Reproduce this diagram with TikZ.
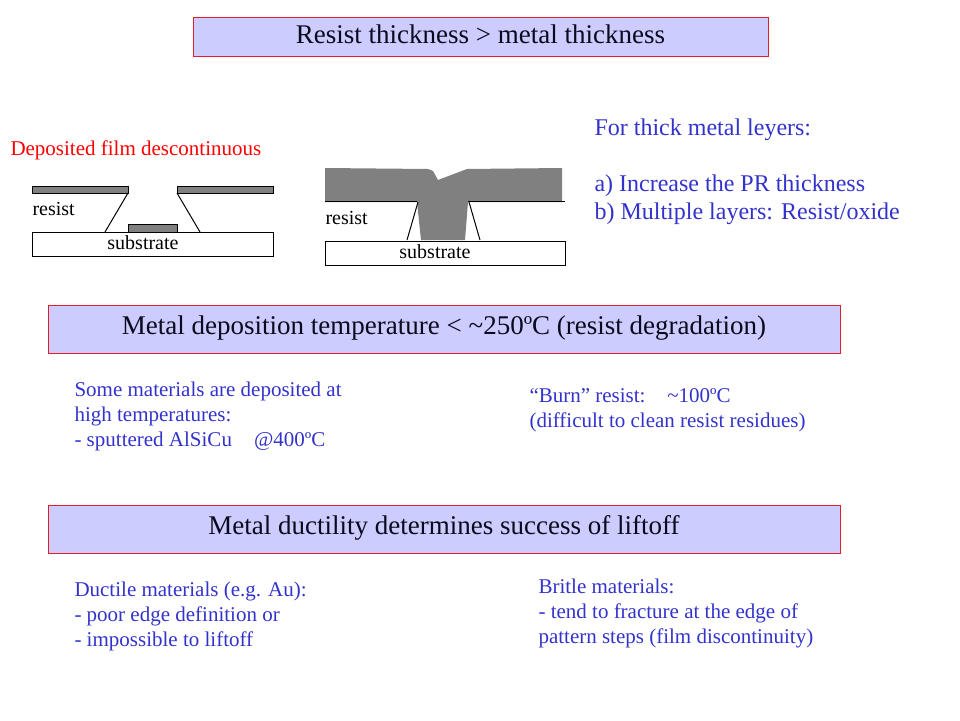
\documentclass[tikz,border=0pt]{standalone}
\usepackage{fontspec}
\setmainfont{Liberation Serif}
\usetikzlibrary{positioning}
\definecolor{boxfill}{RGB}{204,204,255}
\definecolor{boxline}{RGB}{225,30,40}
\definecolor{txtblue}{RGB}{51,51,204}
\definecolor{txtdark}{RGB}{10,10,30}
\definecolor{metal}{RGB}{128,128,128}

\begin{document}
\begin{tikzpicture}[x=1pt,y=-1pt,line width=1pt,
  titlebox/.style={draw=boxline,fill=boxfill,inner sep=0pt,text height=17pt,text depth=7pt,text=txtdark,font=\fontsize{27}{30}\selectfont},
  note/.style={anchor=north west,inner sep=0pt,align=left,text=txtblue,font=\fontsize{21}{25}\selectfont},
  lbl/.style={inner sep=0pt,font=\fontsize{20}{24}\selectfont}]
  \useasboundingbox[fill=white] (0,0) rectangle (960,720);

  % title boxes
  \node[titlebox,text depth=3pt,minimum width=575pt,minimum height=39pt] (T1) at (480.5,36.5) {Resist thickness > metal thickness};
  \node[titlebox,minimum width=792pt,minimum height=48pt] (T2) at (444,329) {Metal deposition temperature < \textasciitilde250ºC (resist degradation)};
  \node[titlebox,minimum width=792pt,minimum height=48pt] (T3) at (444,529.5) {Metal ductility determines success of liftoff};

  % left sketch: film broken at the resist edge
  \filldraw[fill=metal] (32,186) rectangle (128,193);
  \filldraw[fill=metal] (177,186) rectangle (273,193);
  \filldraw[fill=metal] (128,224) rectangle (177,232);
  \draw (32,232) rectangle (273,256);
  \draw (128,193) -- (105,232) (177,193) -- (200,232);
  \node[anchor=base west,inner sep=0pt,text=red,font=\fontsize{21}{25}\selectfont] (D) at (10,155) {Deposited film descontinuous};
  \node[lbl,anchor=base west] (R1) at (32,215) {resist};
  \node[lbl,anchor=base] (S1) at (143,249) {substrate};

  % right sketch: thick metal over thin resist
  \fill[metal] (325,168) -- (428,169) -- (433,171) -- (438,180) -- (467,169) -- (562,168)
    -- (562,202) -- (468,202) -- (465,240) -- (421,240) -- (417,202) -- (325,202) -- cycle;
  \draw (325,201) -- (417,201) (468,201) -- (565,201);
  \draw (418,202) -- (407,240) (469,202) -- (480,240);
  \draw (325,241) rectangle (565,265);
  \node[lbl,anchor=base west] (R2) at (325,224) {resist};
  \node[lbl,anchor=base] (S2) at (435,258) {substrate};

  % notes
  \node[note,font=\fontsize{24}{28.5}\selectfont] (N1) at (594,118) {For thick metal leyers:\\[27.5pt]a) Increase the PR thickness\\b) Multiple layers: Resist/oxide};
  \node[note] (N2) at (74,381) {Some materials are deposited at\\high temperatures:\\- sputtered AlSiCu\hspace{0.8em} @400ºC};
  \node[note] (N3) at (529,388.5) {“Burn” resist:\hspace{0.7em} \textasciitilde100ºC\\(difficult to clean resist residues)};
  \node[note] (N4) at (74,581.5) {Ductile materials (e.g. Au):\\- poor edge definition or\\- impossible to liftoff};
  \node[note] (N5) at (538,578.5) {Britle materials:\\- tend to fracture at the edge of\\pattern steps (film discontinuity)};
\end{tikzpicture}
\end{document}
